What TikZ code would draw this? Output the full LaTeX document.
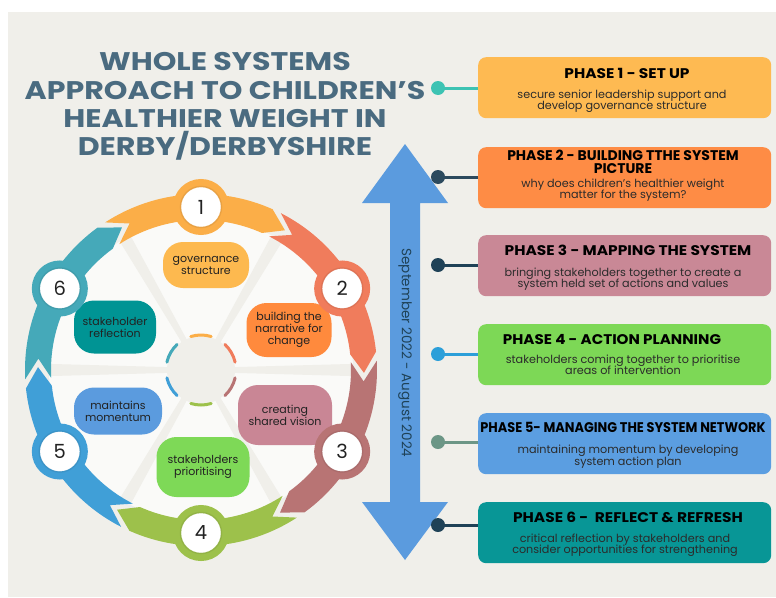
\documentclass[tikz,border=0pt]{standalone}
\usepackage{fontspec}
\usepackage{graphicx}
\setmainfont{Poppins}
\definecolor{bgc}{HTML}{F0EFEA}
\definecolor{titlec}{HTML}{4A6B80}
\definecolor{box1}{HTML}{FEBA52}
\definecolor{box2}{HTML}{FE8C45}
\definecolor{box3}{HTML}{C98896}
\definecolor{box4}{HTML}{7DD856}
\definecolor{box5}{HTML}{5B9EE1}
\definecolor{box6}{HTML}{089696}
\definecolor{c1}{HTML}{3DC3B3}
\definecolor{c2}{HTML}{2C4A5E}
\definecolor{c3}{HTML}{1F4257}
\definecolor{c4}{HTML}{2C9FD9}
\definecolor{c5}{HTML}{6C9686}
\definecolor{c6}{HTML}{1F4257}
\definecolor{arrowc}{HTML}{5B9BDE}
\definecolor{s1}{HTML}{FBAE48}
\definecolor{s2}{HTML}{F07C5C}
\definecolor{s3}{HTML}{B87474}
\definecolor{s4}{HTML}{9DC14B}
\definecolor{s5}{HTML}{409FD7}
\definecolor{s6}{HTML}{45A9B9}
\definecolor{p1}{HTML}{FDB94F}
\definecolor{p2}{HTML}{FF8A3D}
\definecolor{p3}{HTML}{C98695}
\definecolor{p4}{HTML}{7ED957}
\definecolor{p5}{HTML}{5B9BDE}
\definecolor{p6}{HTML}{009494}
\definecolor{discc}{HTML}{FAFAF8}
\definecolor{txtc}{HTML}{222222}
\definecolor{subc}{HTML}{2B2B2B}
\newcommand{\widen}[2]{\scalebox{#1}[1]{#2}}
\begin{document}
\begin{tikzpicture}[x=1pt,y=-1pt,
  ttl/.style={anchor=base, inner sep=0, text=titlec, font=\fontsize{25.5}{30}\selectfont\bfseries},
  ptitle/.style={anchor=base, inner sep=0, text=black, font=\fontsize{14}{15}\selectfont\bfseries},
  psub/.style={anchor=base, inner sep=0, text=subc, font=\fontsize{11.2}{12}\selectfont},
  pbox/.style={anchor=north west, minimum width=293pt, minimum height=61pt, rounded corners=8pt, inner sep=0},
  dot/.style={circle, minimum size=14pt, inner sep=0},
  conn/.style={line width=3pt},
  pill/.style={rounded corners=20pt, inner sep=0, align=center, text=txtc, font=\fontsize{11}{12}\selectfont},
  badge/.style={circle, fill=white, line width=8pt, minimum size=48pt, inner sep=0, text=txtc, font=\fontsize{19.5}{19.5}\selectfont}
]
\useasboundingbox (0,0) rectangle (776,597);
\fill[white] (0,0) rectangle (776,597);
\fill[bgc] (8,12) rectangle (776,597);

% title
\node[ttl] (t1) at (225,70) {\widen{1.18}{WHOLE SYSTEMS}};
\node[ttl] (t2) at (225,99) {\widen{1.18}{APPROACH TO CHILDREN'S}};
\node[ttl] (t3) at (225,127) {\widen{1.18}{HEALTHIER WEIGHT IN}};
\node[ttl] (t4) at (225,155) {\widen{1.18}{DERBY/DERBYSHIRE}};

% timeline arrow
\fill[arrowc] (405,144) -- (448,203) -- (420,203) -- (420,502) -- (448,502) -- (405,560)
  -- (362,502) -- (390,502) -- (390,203) -- (362,203) -- cycle;
\node[rotate=-90, inner sep=0, text=c3, font=\fontsize{13.5}{13.5}\selectfont] (dates) at (405,353) {September 2022 - August 2024};

% connectors and dots
\node[dot, fill=c1] (d1) at (438,88) {};
\node[dot, fill=c2] (d2) at (438,177) {};
\node[dot, fill=c3] (d3) at (438,265) {};
\node[dot, fill=c4] (d4) at (438,354) {};
\node[dot, fill=c5] (d5) at (438,442) {};
\node[dot, fill=c6] (d6) at (438,525) {};

% phase boxes
\node[pbox, fill=box1] (b1) at (478,57) {};
\node[pbox, fill=box2] (b2) at (478,147) {};
\node[pbox, fill=box3] (b3) at (478,235) {};
\node[pbox, fill=box4] (b4) at (478,324) {};
\node[pbox, fill=box5] (b5) at (478,413) {};
\node[pbox, fill=box6] (b6) at (478,502) {};

\draw[conn, c1] (d1.center) -- (d1 -| b1.west);
\draw[conn, c2] (d2.center) -- (d2 -| b2.west);
\draw[conn, c3] (d3.center) -- (d3 -| b3.west);
\draw[conn, c4] (d4.center) -- (d4 -| b4.west);
\draw[conn, c5] (d5.center) -- (d5 -| b5.west);
\draw[conn, c6] (d6.center) -- (d6 -| b6.west);

% phase texts
\node[ptitle] (h1) at (627,78) {\widen{1.1}{PHASE 1 - SET UP}};
\node[psub] (h1a) at (622,98) {secure senior leadership support and};
\node[psub] (h1b) at (622,109) {develop governance structure};

\node[ptitle] (h2) at (623,160) {\widen{1.0}{PHASE 2 - BUILDING TTHE SYSTEM}};
\node[ptitle] (h2b) at (623,173) {\widen{1.0}{PICTURE}};
\node[psub] (h2c) at (623,187) {why does children's healthier weight};
\node[psub] (h2d) at (623,198) {matter for the system?};

\node[ptitle] (h3) at (628,255) {\widen{1.1}{PHASE 3 - MAPPING THE SYSTEM}};
\node[psub] (h3a) at (623,276) {bringing stakeholders together to create a};
\node[psub] (h3b) at (623,287) {system held set of actions and values};

\node[ptitle] (h4) at (612,344) {\widen{1.08}{PHASE 4 - ACTION PLANNING}};
\node[psub] (h4a) at (623,363) {stakeholders coming together to prioritise};
\node[psub] (h4b) at (623,374) {areas of intervention};

\node[ptitle] (h5) at (623,432) {\widen{0.92}{PHASE 5- MANAGING THE SYSTEM NETWORK}};
\node[psub] (h5a) at (628,453) {maintaining momentum by developing};
\node[psub] (h5b) at (628,465) {system action plan};

\node[ptitle] (h6) at (628,522) {\widen{1.1}{PHASE 6 -~ REFLECT \& REFRESH}};
\node[psub] (h6a) at (625,542) {critical reflection by stakeholders and};
\node[psub] (h6b) at (625,553) {consider opportunities for strengthening};

% cycle
\begin{scope}[shift={(201,370)}]
  \fill[black!7] (0,2) circle (153pt);
  \fill[discc] (0,0) circle (152pt);
  \foreach \a in {0,60,...,300}
    \fill[bgc] (\a+90:2pt) -- (\a+2.3:152pt) -- (\a-2.3:152pt) -- (\a-90:2pt) -- cycle;
  \foreach \a/\c in {90/s1,30/s2,-30/s3,-90/s4,-150/s5,150/s6}
    \fill[\c] (\a+33:176pt) arc[start angle=\a+33, end angle=\a-24, radius=176pt]
      -- (\a-31:163pt) -- (\a-24:150pt)
      arc[start angle=\a-24, end angle=\a+33, radius=150pt]
      -- (\a+26:163pt) -- cycle;
  \fill[bgc] (0,0) circle (34pt);
  \foreach \a/\c in {90/s1,30/s2,-30/s3,-90/s4,-150/s5,150/s6}
    \draw[\c, line width=3pt, line cap=round] (\a+17:35pt) arc[start angle=\a+17, end angle=\a-17, radius=35pt];
\end{scope}

% pills
\node[pill, fill=p1, minimum width=86pt, minimum height=46pt] (g1) at (206,265) {governance\\structure};
\node[pill, fill=p2, minimum width=85pt, minimum height=54pt] (g2) at (289,330) {building the\\narrative for\\change};
\node[pill, fill=p3, minimum width=94pt, minimum height=60pt] (g3) at (285,415) {creating\\shared vision};
\node[pill, fill=p4, minimum width=93pt, minimum height=60pt] (g4) at (203,467) {stakeholders\\prioritising};
\node[pill, fill=p5, minimum width=88pt, minimum height=47pt] (g5) at (118,411) {maintains\\momentum};
\node[pill, fill=p6, minimum width=82pt, minimum height=53pt] (g6) at (115,327) {stakeholder\\reflection};

% badges
\begin{scope}[shift={(201,370)}]
  \foreach \a/\c/\k in {90/s1/1,30/s2/2,-30/s3/3,-90/s4/4,-150/s5/5,150/s6/6} {
    \node[badge, draw=\c] (n\k) at (\a:163pt) {\k};
    \draw[\c!80!black, opacity=0.35, line width=1.5pt] (n\k.center) circle (20.5pt);
  }
\end{scope}
\end{tikzpicture}
\end{document}
